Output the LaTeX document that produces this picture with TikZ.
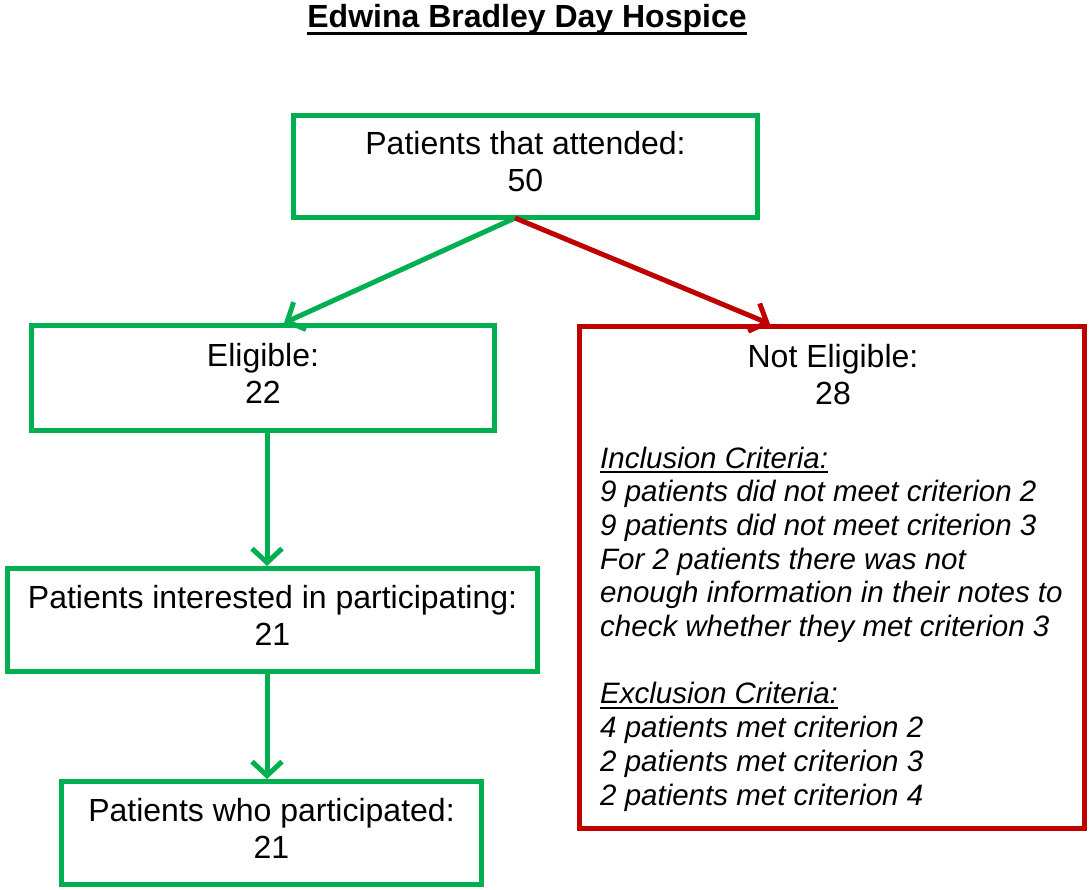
\documentclass[tikz,border=0pt]{standalone}
\usepackage{fontspec}
\setmainfont{Liberation Sans}
\usetikzlibrary{arrows.meta}
\definecolor{boxgreen}{HTML}{00B050}
\definecolor{boxred}{HTML}{C00000}
% underline: #1 = rule depth below baseline (bottom), #2 = thickness, #3 = text
\newcommand{\myuline}[3]{\setbox0\hbox{#3}\leavevmode\rlap{\rule[-#1]{\wd0}{#2}}\box0}
\tikzset{
  gbox/.style={draw=boxgreen, line width=5pt, inner sep=0pt},
  rbox/.style={draw=boxred, line width=5pt, inner sep=0pt},
  garrow/.style={draw=boxgreen, line width=5pt, -{Straight Barb[length=14pt,width=30pt,line width=5pt]}},
  rarrow/.style={draw=boxred, line width=5pt, -{Straight Barb[length=14pt,width=30pt,line width=5pt]}},
  maintext/.style={inner sep=0pt, align=center, font=\fontsize{32}{37}\selectfont},
  crittext/.style={inner sep=0pt, align=left, font=\fontsize{29.5}{33.7}\selectfont\itshape},
}
\begin{document}
\begin{tikzpicture}[x=1pt,y=-1pt]
\useasboundingbox (0,0) rectangle (1090,890);
% title
\node[inner sep=0pt, anchor=base, font=\fontsize{32}{36}\selectfont\bfseries] (title) at (527,28) {\myuline{7pt}{3pt}{Edwina Bradley Day Hospice}};
% boxes
\node[gbox, minimum width=464pt, minimum height=102pt] (top) at (525.5,166.5) {};
\node[gbox, minimum width=463pt, minimum height=105pt] (elig) at (263,378) {};
\node[gbox, minimum width=530pt, minimum height=103pt] (inter) at (272.5,620) {};
\node[gbox, minimum width=420pt, minimum height=103pt] (part) at (271.5,833) {};
\node[rbox, minimum width=505pt, minimum height=502pt] (notel) at (832,577.5) {};
% box texts
\node[maintext, yshift=5pt] (topt) at (top.center) {Patients that attended:\\50};
\node[maintext, yshift=5pt] (eligt) at (elig.center) {Eligible:\\22};
\node[maintext, yshift=5pt] (intert) at (inter.center) {Patients interested in participating:\\21};
\node[maintext, yshift=5pt] (partt) at (part.center) {Patients who participated:\\21};
\node[maintext, anchor=north] (notelt) at (833,344) {Not Eligible:\\28};
\node[crittext, anchor=north west] (crit) at (600,446.5) {\myuline{5pt}{2pt}{Inclusion Criteria:}\\
9 patients did not meet criterion 2\\
9 patients did not meet criterion 3\\
For 2 patients there was not\\
enough information in their notes to\\
check whether they met criterion 3\\[33.7pt]
\myuline{5pt}{2pt}{Exclusion Criteria:}\\
4 patients met criterion 2\\
2 patients met criterion 3\\
2 patients met criterion 4};
% connectors
\coordinate (src) at (515,218);
\coordinate (xl) at (284,0);
\coordinate (xr) at (770,0);
\coordinate (xv) at (267,0);
\draw[garrow] (src) -- (elig.north -| xl);
\draw[rarrow] (src) -- (notel.north -| xr);
\draw[garrow] (elig.south -| xv) -- (inter.north -| xv);
\draw[garrow] (inter.south -| xv) -- (part.north -| xv);
\end{tikzpicture}
\end{document}
